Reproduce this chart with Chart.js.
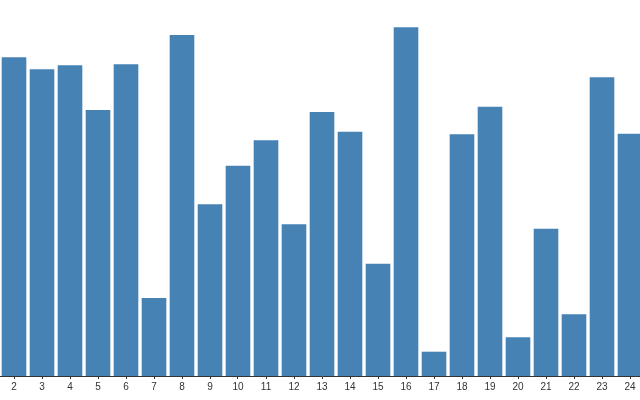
<!DOCTYPE html>
<html>
<head>
<meta charset="utf-8">
<script src="https://cdn.jsdelivr.net/npm/chart.js@4/dist/chart.umd.min.js"></script>
<style>
  html, body { margin: 0; padding: 0; background: #fff; overflow: hidden; }
  #wrap { position: absolute; left: 0; top: 0; width: 644px; height: 400px; }
</style>
</head>
<body>
<div id="wrap"><canvas id="chart" width="644" height="400"></canvas></div>
<script>
// ===== bar chart data =====
const categories = ["2","3","4","5","6","7","8","9","10","11","12","13","14","15","16","17","18","19","20","21","22","23","24"];
const values = [318.7, 306.7, 310.7, 266, 311.7, 78, 341, 171.7, 210.3, 235.7, 151.7, 264, 244.3, 112.3, 348.7, 24.3, 241.7, 269.3, 38.7, 147.3, 61.7, 298.7, 242.3];
const yMax = 376;

const ctx = document.getElementById("chart");
const chart = new Chart(ctx, {
  type: "bar",
  data: {
    labels: categories,
    datasets: [{
      data: values,
      backgroundColor: "#4682b4",
      barPercentage: 0.88,
      categoryPercentage: 1.0
    }]
  },
  options: {
    responsive: false,
    animation: false,
    layout: { padding: 0 },
    plugins: { legend: { display: false }, tooltip: { enabled: false } },
    scales: {
      x: {
        grid: { offset: false, drawOnChartArea: false, drawTicks: true, tickLength: 3, color: "#333" },
        border: { display: true, color: "#333", width: 1 },
        ticks: { color: "#333", padding: 2, maxRotation: 0, autoSkip: false, font: { family: "Liberation Sans", size: 10 } },
        afterFit(scale) { scale.height = 24; }
      },
      y: { display: false, min: 0, max: yMax }
    }
  }
});
</script>
</body>
</html>
